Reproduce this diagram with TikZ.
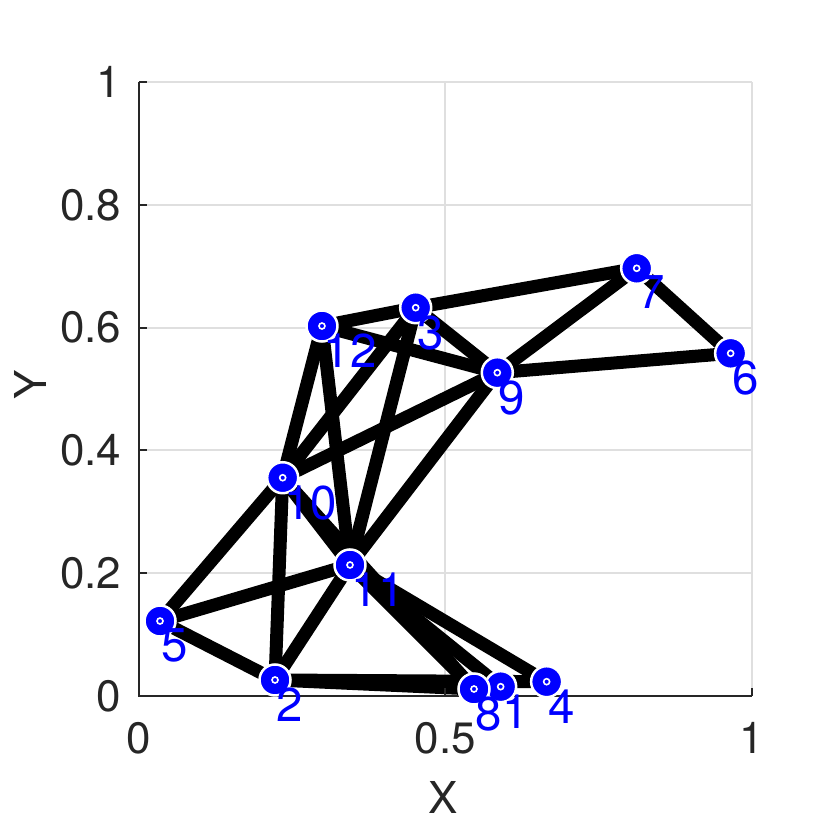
\documentclass[tikz,border=0pt]{standalone}
\usepackage{fontspec}
\setmainfont{TeX Gyre Heros}
\usetikzlibrary{calc}
\definecolor{axgray}{RGB}{38,38,38}
\definecolor{gridgray}{RGB}{223,223,223}
\tikzset{
 edgeline/.style={black, line width=0.13cm},
 vertex/.style={circle, fill=blue, draw=white, line width=0.025cm, minimum size=0.31cm, inner sep=0},
 vdot/.style={circle, draw=white, line width=0.016cm, minimum size=0.06cm, inner sep=0},
 vlabel/.style={blue, anchor=north west, inner sep=0, font=\fontsize{13.5}{13.5}\selectfont},
 ticklabel/.style={axgray, inner sep=0, font=\fontsize{12.5}{12.5}\selectfont}
}
\begin{document}
\begin{tikzpicture}[x=6.13cm, y=6.14cm]
\useasboundingbox (-1.39cm,-1.34cm) rectangle (6.91cm,6.96cm);
\foreach \x in {0.5,1} {
 \draw[gridgray, line width=0.02cm] (\x,0) --++(0,1);
}
\foreach \y in {0.2,0.4,0.6,0.8,1} {
 \draw[gridgray, line width=0.02cm] (0,\y) --++(1,0);
}
\foreach \i/\x/\y in {1/0.590/0.0152, 2/0.2219/0.0261, 3/0.4514/0.6324, 4/0.665/0.0233,
 5/0.0343/0.1221, 6/0.9652/0.5581, 7/0.8119/0.6966, 8/0.5465/0.0114,
 9/0.5845/0.5266, 10/0.2344/0.3555, 11/0.3442/0.2134, 12/0.2985/0.6026} {
 \coordinate (v\i) at (\x,\y);
}
\foreach \a/\b in {12/3, 3/7, 7/6, 7/9, 9/6, 12/9, 3/9, 12/10, 12/11, 3/10, 3/11,
 9/10, 9/11, 10/5, 10/2, 10/11, 10/8, 5/11, 5/2, 2/11, 2/8, 2/4, 11/8, 11/1, 11/4} {
 \draw[edgeline] (v\a) -- (v\b);
}
\draw[axgray, line width=0.02cm] (0,1) -- (0,0) -- (1,0);
\foreach \y in {0,0.2,0.4,0.6,0.8,1} {
 \draw[axgray, line width=0.02cm] (0,\y) --++(0.08cm,0);
 \node[ticklabel, anchor=east] (ylab\y) at ($(0,\y)+(-0.17cm,0)$) {\y};
}
\foreach \x in {0,0.5,1} {
 \draw[axgray, line width=0.02cm] (\x,0) --++(0,0.08cm);
 \node[ticklabel, anchor=north] (xlab\x) at ($(\x,0)+(0,-0.26cm)$) {\x};
}
\foreach \i in {1,...,12} {
 \node[vertex] (m\i) at (v\i) {};
 \node[vdot] (d\i) at (v\i) {};
 \node[vlabel] (t\i) at ($(v\i)+(0.01cm,-0.07cm)$) {\i};
}
\node[ticklabel] (xname) at (3.04cm,-1.01cm) {X};
\node[ticklabel, rotate=90] (yname) at (-1.09cm,3.11cm) {Y};
\end{tikzpicture}
\end{document}
